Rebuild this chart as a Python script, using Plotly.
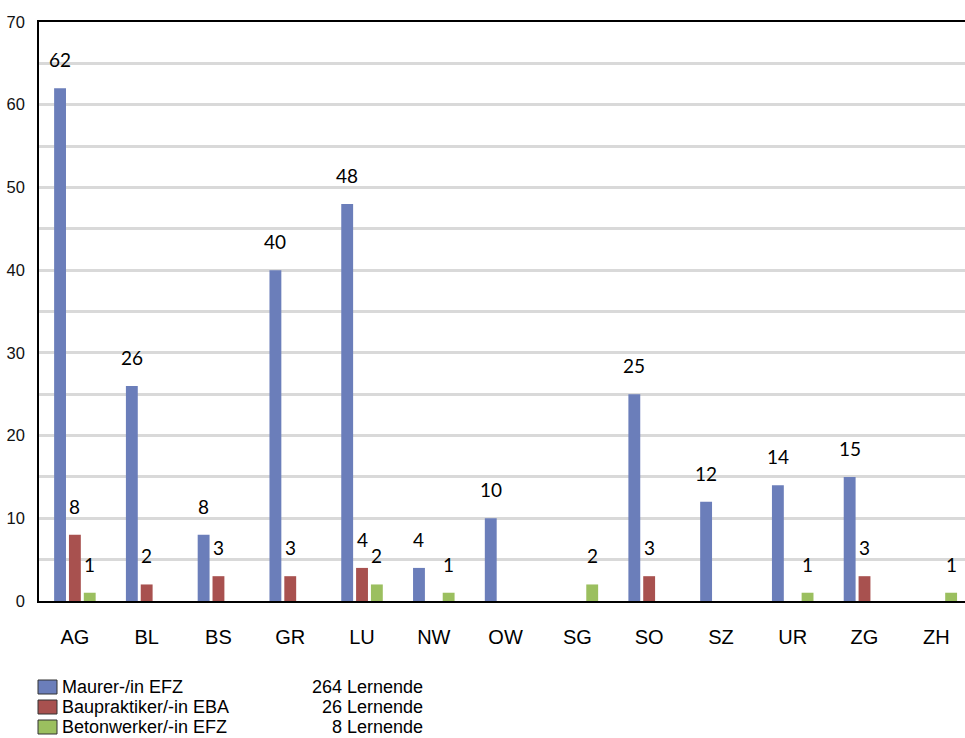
import plotly.graph_objects as go

# Lernende nach Kanton und Beruf
kantone = ["AG", "BL", "BS", "GR", "LU", "NW", "OW", "SG", "SO", "SZ", "UR", "ZG", "ZH"]
maurer = [62, 26, 8, 40, 48, 4, 10, 0, 25, 12, 14, 15, 0]
baupraktiker = [8, 2, 3, 3, 4, 0, 0, 0, 3, 0, 0, 3, 0]
betonwerker = [1, 0, 0, 0, 2, 1, 0, 2, 0, 0, 1, 0, 1]

serien = [
    ("Maurer-/in EFZ", maurer, "#6B7EBA"),
    ("Baupraktiker/-in EBA", baupraktiker, "#A8514F"),
    ("Betonwerker/-in EFZ", betonwerker, "#9BBF5F"),
]

# Layout geometry (pixels)
W, H = 965, 738
ML, MR, MT, MB = 39, 0, 22, 137
PW, PH = W - ML - MR, H - MT - MB
X_RANGE = [-0.5, 12.4]
BARGAP, GROUPGAP = 0.38, 0.2

fig = go.Figure()
for name, vals, color in serien:
    fig.add_trace(go.Bar(
        x=kantone, y=vals, name=name,
        marker=dict(color=color, line=dict(width=0)),
        showlegend=False,
    ))

# value labels above each non-zero bar
cat_px = PW / (X_RANGE[1] - X_RANGE[0])
slot_px = cat_px * (1 - BARGAP) / len(serien)
annotations = []
for i, (name, vals, color) in enumerate(serien):
    dx = (i - (len(serien) - 1) / 2) * slot_px
    for k, v in zip(kantone, vals):
        if v:
            annotations.append(dict(
                x=k, y=v, xref="x", yref="y", text=str(v), showarrow=False,
                xanchor="center", yanchor="bottom", xshift=dx, yshift=15,
                font=dict(family="Lato, Arial, sans-serif", size=19, color="#000"),
            ))

# legend block below the chart
def px_x(px):
    return (px - ML) / PW

def px_y(py):
    return (MT + PH - py) / PH

shapes = []
for j, (name, vals, color) in enumerate(serien):
    cy = 687 + 20 * j
    shapes.append(dict(
        type="rect", xref="paper", yref="paper",
        x0=px_x(38), x1=px_x(57), y0=px_y(cy + 7), y1=px_y(cy - 7),
        fillcolor=color, line=dict(color="#333333", width=1),
    ))
    annotations.append(dict(
        x=px_x(60), y=px_y(cy), xref="paper", yref="paper", text=name,
        showarrow=False, xanchor="left", yanchor="middle",
        font=dict(family="Liberation Sans, Arial, sans-serif", size=18, color="#000"),
    ))
    annotations.append(dict(
        x=px_x(425), y=px_y(cy), xref="paper", yref="paper",
        text=f"{sum(vals)} Lernende",
        showarrow=False, xanchor="right", yanchor="middle",
        font=dict(family="Liberation Sans, Arial, sans-serif", size=18, color="#000"),
    ))

fig.update_layout(
    width=W, height=H,
    margin=dict(l=ML, r=MR, t=MT, b=MB, pad=0),
    plot_bgcolor="white", paper_bgcolor="white",
    barmode="group", bargap=BARGAP, bargroupgap=GROUPGAP,
    annotations=annotations, shapes=shapes,
    xaxis=dict(
        range=X_RANGE, showgrid=False, showline=True, linecolor="#000",
        linewidth=1.5, mirror=True, ticks="", ticklabelstandoff=17,
        tickfont=dict(family="Liberation Sans, Arial, sans-serif", size=20, color="#000"),
    ),
    yaxis=dict(
        range=[0, 70], dtick=10, showgrid=True, gridcolor="#d9d9d9", gridwidth=2.5,
        minor=dict(dtick=5, showgrid=True, gridcolor="#d9d9d9", gridwidth=2.5),
        zeroline=False, showline=True, linecolor="#000", linewidth=1.5,
        ticks="", ticklabelstandoff=9,
        tickfont=dict(family="Liberation Sans, Arial, sans-serif", size=16.5, color="#111"),
    ),
)

fig.write_html("out.html")
